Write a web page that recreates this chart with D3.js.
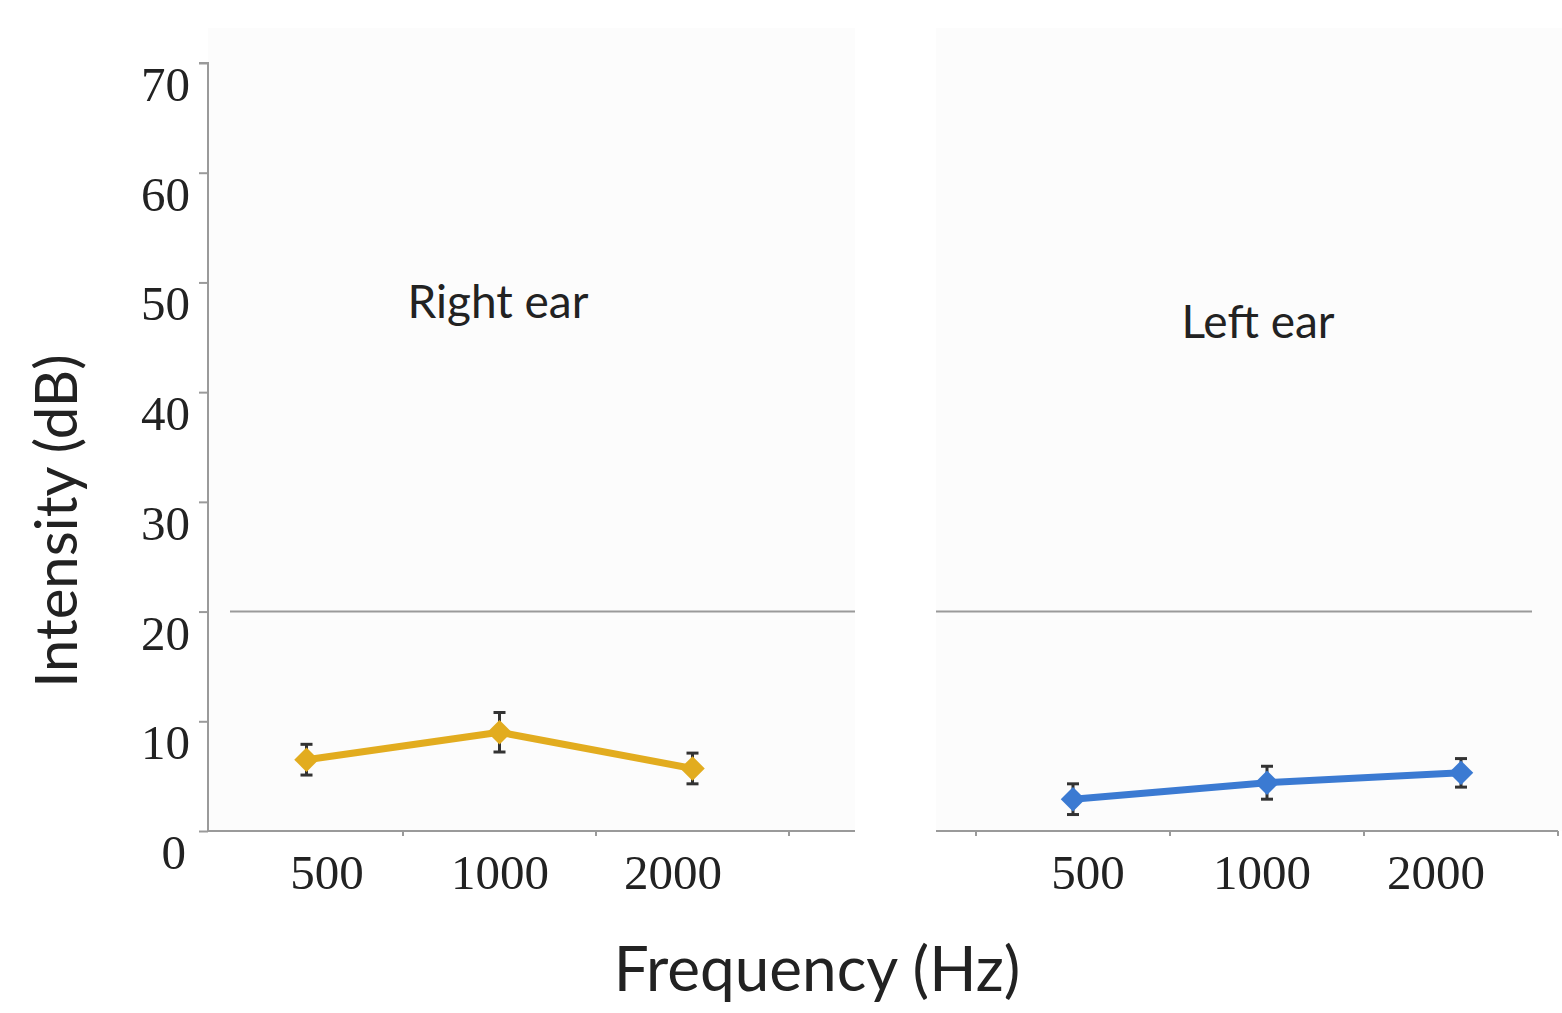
<!DOCTYPE html>
<html>
<head>
<meta charset="utf-8">
<script src="https://cdn.jsdelivr.net/npm/d3@7"></script>
<style>
  body { margin: 0; background: #fff; }
  text { fill: #222; }
</style>
</head>
<body>
<div id="chart"></div>
<script>
const frequencies = ["500", "1000", "2000"];
const rightEar = [6.5, 9.0, 5.7];
const rightErr = [1.4, 1.8, 1.4];
const leftEar = [2.9, 4.4, 5.3];
const leftErr = [1.4, 1.5, 1.3];
const yTicks = [0, 10, 20, 30, 40, 50, 60, 70];
const normalLimit = 20;

const width = 1562, height = 1013;

const svg = d3.select("#chart").append("svg")
    .attr("width", width)
    .attr("height", height);

const y = d3.scaleLinear().domain([0, 70]).range([831, 63]);

// two panels, each with own band scale
const panels = [
    { name: "Right ear", values: rightEar, errs: rightErr, color: "#E2AC1F",
      bg: [208, 855], band: [210, 789], labels: [327, 673], ref: [230, 855],
      title: [498, 318], axisEnd: 855 },
    { name: "Left ear", values: leftEar, errs: leftErr, color: "#3B7AD2",
      bg: [936, 1562], band: [976, 1558], labels: [1088, 1436], ref: [936, 1532],
      title: [1258, 338], axisEnd: 1558 }
];

panels.forEach(p => {
    const g = svg.append("g");
    g.append("rect")
        .attr("x", p.bg[0]).attr("y", 28)
        .attr("width", p.bg[1] - p.bg[0]).attr("height", y(0) - 28)
        .attr("fill", "#fcfcfc");

    const x = d3.scaleBand().domain(frequencies).range(p.band).paddingInner(0);
    const xl = d3.scalePoint().domain(frequencies).range(p.labels);

    // reference line at 20 dB
    g.append("line")
        .attr("x1", p.ref[0]).attr("x2", p.ref[1])
        .attr("y1", y(normalLimit)).attr("y2", y(normalLimit))
        .attr("stroke", "#9a9a9a").attr("stroke-width", 2);

    // x axis line
    g.append("line")
        .attr("x1", p.bg[0]).attr("x2", p.axisEnd)
        .attr("y1", y(0)).attr("y2", y(0))
        .attr("stroke", "#9a9a9a").attr("stroke-width", 2);

    // tick marks at band boundaries
    const bounds = frequencies.map(f => x(f) + x.bandwidth()).concat(p.name === "Left ear" ? [x(frequencies[0])] : []);
    g.selectAll(".xt").data(bounds).join("line")
        .attr("x1", d => d).attr("x2", d => d)
        .attr("y1", y(0)).attr("y2", y(0) + 5)
        .attr("stroke", "#9a9a9a").attr("stroke-width", 2);

    g.selectAll(".xl").data(frequencies).join("text")
        .attr("x", d => xl(d)).attr("y", 889)
        .attr("text-anchor", "middle")
        .style("font-family", "'Liberation Serif', serif")
        .style("font-size", "49px")
        .text(d => d);

    const cx = d => x(d) + x.bandwidth() / 2;
    const pts = frequencies.map((f, i) => ({ f, v: p.values[i], e: p.errs[i] }));

    // error bars
    const eb = g.append("g").attr("stroke", "#333").attr("stroke-width", 3);
    pts.forEach(d => {
        eb.append("line").attr("x1", cx(d.f)).attr("x2", cx(d.f))
            .attr("y1", y(d.v - d.e)).attr("y2", y(d.v + d.e));
        [d.v - d.e, d.v + d.e].forEach(v => {
            eb.append("line").attr("x1", cx(d.f) - 6).attr("x2", cx(d.f) + 6)
                .attr("y1", y(v)).attr("y2", y(v));
        });
    });

    g.append("path")
        .datum(pts)
        .attr("fill", "none")
        .attr("stroke", p.color)
        .attr("stroke-width", 7)
        .attr("stroke-linejoin", "round")
        .attr("d", d3.line().x(d => cx(d.f)).y(d => y(d.v)));

    g.selectAll(".pt").data(pts).join("path")
        .attr("d", d3.symbol().type(d3.symbolSquare).size(300))
        .attr("transform", d => `translate(${cx(d.f)},${y(d.v)}) rotate(45)`)
        .attr("fill", p.color);

    g.append("text")
        .attr("x", p.title[0]).attr("y", p.title[1])
        .attr("text-anchor", "middle")
        .style("font-family", "Lato, sans-serif")
        .style("font-size", "46px")
        .text(p.name);
});

// y axis
const yAxis = svg.append("g")
    .attr("transform", "translate(208,0)")
    .call(d3.axisLeft(y).tickValues(yTicks).tickSize(9).tickFormat(""));
yAxis.selectAll("line, path").attr("stroke", "#9a9a9a").attr("stroke-width", 2);
yAxis.select(".domain").attr("d", `M-9,${y(70)}H0V${y(0)}`);

svg.selectAll(".yl").data(yTicks).join("text")
    .attr("x", d => d === 0 ? 186 : 190)
    .attr("y", d => y(d) + 38)
    .attr("text-anchor", "end")
    .style("font-family", "'Liberation Serif', serif")
    .style("font-size", "49px")
    .text(d => d);

svg.append("text")
    .attr("transform", "translate(77,521) rotate(-90)")
    .attr("text-anchor", "middle")
    .style("font-family", "Lato, sans-serif")
    .style("font-size", "58px")
    .text("Intensity (dB)");

svg.append("text")
    .attr("x", 817).attr("y", 991)
    .attr("text-anchor", "middle")
    .style("font-family", "Lato, sans-serif")
    .style("font-size", "62px")
    .text("Frequency (Hz)");
</script>
</body>
</html>
